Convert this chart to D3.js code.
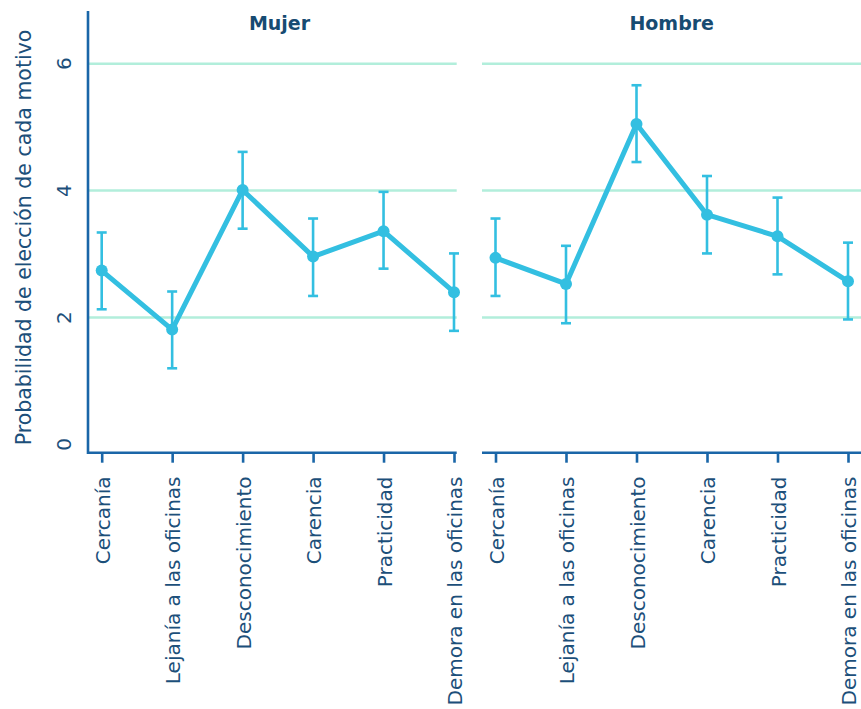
<!DOCTYPE html>
<html>
<head>
<meta charset="utf-8">
<script src="https://cdn.jsdelivr.net/npm/d3@7"></script>
<style>
  html, body { margin: 0; padding: 0; background: #ffffff; }
  svg { display: block; }
  text { font-family: "DejaVu Sans", "Open Sans", sans-serif; }
</style>
</head>
<body>
<svg id="chart" width="861" height="709"></svg>
<script>
// Motives shown on the x axis of each panel
const categories = [
  "Cercanía",
  "Lejanía a las oficinas",
  "Desconocimiento",
  "Carencia",
  "Practicidad",
  "Demora en las oficinas"
];
const panelNames = ["Mujer", "Hombre"];

// Estimated probability (point) with its interval bounds, per panel
const mujerMean = [2.74, 1.81, 4.01, 2.96, 3.36, 2.40];
const mujerLow  = [2.13, 1.20, 3.40, 2.34, 2.77, 1.79];
const mujerHigh = [3.34, 2.41, 4.61, 3.56, 3.98, 3.01];

const hombreMean = [2.94, 2.53, 5.05, 3.62, 3.28, 2.57];
const hombreLow  = [2.34, 1.91, 4.45, 3.01, 2.68, 1.97];
const hombreHigh = [3.56, 3.13, 5.66, 4.23, 3.89, 3.18];

const yTicks = [0, 2, 4, 6];
const yLabel = "Probabilidad de elección de cada motivo";

const COL_LINE = "#33bfe1";
const COL_AXIS = "#1a66a8";
const COL_TEXT = "#1c4f7a";
const COL_TITLE = "#174b72";
const COL_GRID = "#b2eedb";

const svg = d3.select("#chart");

const y = d3.scaleLinear().domain([-0.13, 6.83]).range([452.7, 11]);

const panels = [
  { name: panelNames[0], mean: mujerMean, low: mujerLow, high: mujerHigh,
    x0: 88, x1: 456.7, pts: [101.7, 454], titleX: 279.5 },
  { name: panelNames[1], mean: hombreMean, low: hombreLow, high: hombreHigh,
    x0: 482, x1: 861, pts: [495.5, 848], titleX: 671.7 }
];

panels.forEach((p, pi) => {
  const g = svg.append("g");
  const x = d3.scalePoint().domain(categories).range(p.pts);

  // horizontal grid lines
  g.selectAll("line.grid")
    .data(yTicks.filter(t => t > 0))
    .join("line")
    .attr("class", "grid")
    .attr("x1", p.x0).attr("x2", p.x1)
    .attr("y1", d => y(d)).attr("y2", d => y(d))
    .attr("stroke", COL_GRID).attr("stroke-width", 2.5);

  // panel title
  g.append("text")
    .attr("x", p.titleX).attr("y", 29.5)
    .attr("text-anchor", "middle")
    .attr("font-size", 19).attr("font-weight", "bold")
    .attr("fill", COL_TITLE)
    .text(p.name);

  // x axis
  const xAxis = d3.axisBottom(x).tickSize(10).tickPadding(0).tickFormat("");
  const xg = g.append("g").attr("transform", `translate(0,${y.range()[0]})`).call(xAxis);
  xg.select(".domain").attr("d", `M${p.x0},0H${p.x1}`)
    .attr("stroke", COL_AXIS).attr("stroke-width", 2.6);
  xg.selectAll(".tick line").attr("stroke", COL_AXIS).attr("stroke-width", 2.6);

  // rotated category labels
  g.selectAll("text.cat")
    .data(categories)
    .join("text")
    .attr("class", "cat")
    .attr("transform", d => `translate(${x(d) + 8},476.5) rotate(-90)`)
    .attr("text-anchor", "end")
    .attr("font-size", 20)
    .attr("fill", COL_TEXT)
    .text(d => d);

  // y axis only on the first panel
  if (pi === 0) {
    g.append("line")
      .attr("x1", p.x0).attr("x2", p.x0)
      .attr("y1", y.range()[1]).attr("y2", y.range()[0] + 1.3)
      .attr("stroke", COL_AXIS).attr("stroke-width", 2.6);

    g.selectAll("text.ytick")
      .data(yTicks)
      .join("text")
      .attr("class", "ytick")
      .attr("transform", d => `translate(71,${y(d)}) rotate(-90)`)
      .attr("text-anchor", "middle")
      .attr("font-size", 20)
      .attr("fill", COL_TEXT)
      .text(d => d);

    svg.append("text")
      .attr("transform", `translate(31,${237.5}) rotate(-90)`)
      .attr("text-anchor", "middle")
      .attr("font-size", 20.5)
      .attr("fill", COL_TEXT)
      .text(yLabel);
  }

  const rows = categories.map((c, i) => ({ c, m: p.mean[i], lo: p.low[i], hi: p.high[i] }));

  // error bars
  const eb = g.selectAll("g.eb").data(rows).join("g").attr("class", "eb");
  eb.append("line")
    .attr("x1", d => x(d.c)).attr("x2", d => x(d.c))
    .attr("y1", d => y(d.lo)).attr("y2", d => y(d.hi))
    .attr("stroke", COL_LINE).attr("stroke-width", 2.6);
  ["lo", "hi"].forEach(k => {
    eb.append("line")
      .attr("x1", d => x(d.c) - 5).attr("x2", d => x(d.c) + 5)
      .attr("y1", d => y(d[k])).attr("y2", d => y(d[k]))
      .attr("stroke", COL_LINE).attr("stroke-width", 2.6);
  });

  // connecting line
  g.append("path")
    .datum(rows)
    .attr("d", d3.line().x(d => x(d.c)).y(d => y(d.m)))
    .attr("fill", "none")
    .attr("stroke", COL_LINE).attr("stroke-width", 5)
    .attr("stroke-linejoin", "round");

  // points
  g.selectAll("circle.pt").data(rows).join("circle")
    .attr("class", "pt")
    .attr("cx", d => x(d.c)).attr("cy", d => y(d.m))
    .attr("r", 6)
    .attr("fill", COL_LINE);
});
</script>
</body>
</html>
